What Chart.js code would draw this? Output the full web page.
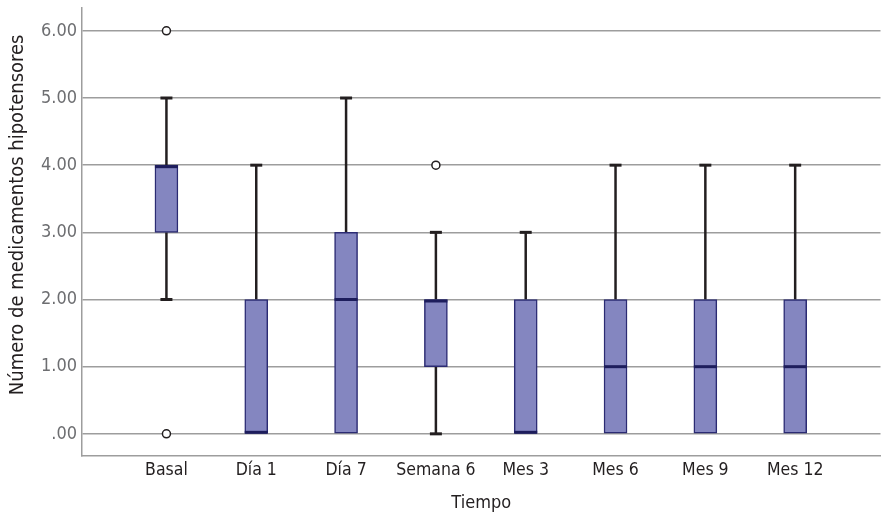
<!DOCTYPE html>
<html>
<head>
<meta charset="utf-8">
<script src="https://cdn.jsdelivr.net/npm/chart.js@4/dist/chart.umd.min.js"></script>
<style>
  html, body { margin: 0; padding: 0; background: #fff; }
  #wrap { width: 886px; height: 518px; }
</style>
</head>
<body>
<div id="wrap"><canvas id="chart" width="886" height="518"></canvas></div>
<script>
// box plot data
const categories = ['Basal', 'Día 1', 'Día 7', 'Semana 6', 'Mes 3', 'Mes 6', 'Mes 9', 'Mes 12'];
const mins    = [2, 0, 0, 0, 0, 0, 0, 0];
const q1s     = [3, 0, 0, 1, 0, 0, 0, 0];
const medians = [4, 0, 2, 2, 0, 1, 1, 1];
const q3s     = [4, 2, 3, 2, 2, 2, 2, 2];
const maxs    = [5, 4, 5, 3, 3, 4, 4, 4];
const outliers = [[6, 0], [], [], [4], [], [], [], []];
const yTicks = [0, 1, 2, 3, 4, 5, 6];

const FONT = "'Liberation Sans Narrow', 'DejaVu Sans Condensed', 'Noto Sans', sans-serif";

// whiskers + caps behind the boxes, medians on top
const boxParts = {
  id: 'boxParts',
  beforeDatasetsDraw(chart) {
    const x = chart.scales.x, y = chart.scales.y, ctx = chart.ctx;
    ctx.save();
    ctx.strokeStyle = '#231f20';
    categories.forEach((c, i) => {
      const px = x.getPixelForValue(i);
      const pairs = [[q3s[i], maxs[i]], [q1s[i], mins[i]]];
      pairs.forEach(([from, to]) => {
        if (from === to) return;
        ctx.lineWidth = 2.5;
        ctx.beginPath();
        ctx.moveTo(px, y.getPixelForValue(from));
        ctx.lineTo(px, y.getPixelForValue(to));
        ctx.stroke();
        ctx.lineWidth = 3;
        ctx.beginPath();
        ctx.moveTo(px - 6, y.getPixelForValue(to));
        ctx.lineTo(px + 6, y.getPixelForValue(to));
        ctx.stroke();
      });
    });
    ctx.restore();
  },
  afterDatasetsDraw(chart) {
    const y = chart.scales.y, ctx = chart.ctx;
    const meta = chart.getDatasetMeta(0);
    ctx.save();
    ctx.strokeStyle = '#1d1d5c';
    ctx.lineWidth = 3;
    categories.forEach((c, i) => {
      const bar = meta.data[i];
      const half = bar.width / 2;
      const top = y.getPixelForValue(q3s[i]);
      const bot = y.getPixelForValue(q1s[i]);
      let py = y.getPixelForValue(medians[i]);
      py = Math.min(Math.max(py, top + 1.5), bot - 1.5);
      ctx.beginPath();
      ctx.moveTo(bar.x - half, py);
      ctx.lineTo(bar.x + half, py);
      ctx.stroke();
    });
    ctx.restore();
  }
};

const outlierPoints = [];
outliers.forEach((arr, i) => arr.forEach(v => outlierPoints.push({ x: i, y: v })));

new Chart(document.getElementById('chart'), {
  type: 'bar',
  data: {
    datasets: [
      {
        type: 'bar',
        data: categories.map((c, i) => ({ x: i, y: [q1s[i], q3s[i]] })),
        backgroundColor: '#8486c0',
        borderColor: '#2b2b73',
        borderWidth: 1.5,
        borderSkipped: false,
        barThickness: 23,
        order: 2
      },
      {
        type: 'scatter',
        data: outlierPoints,
        pointStyle: 'circle',
        pointRadius: 4,
        pointBackgroundColor: '#ffffff',
        pointBorderColor: '#231f20',
        pointBorderWidth: 1.5,
        order: 1
      }
    ]
  },
  options: {
    responsive: false,
    animation: false,
    layout: { padding: { top: 8, right: 2, left: 0, bottom: 0 } },
    plugins: {
      legend: { display: false },
      tooltip: { enabled: false }
    },
    scales: {
      x: {
        type: 'linear',
        offset: false,
        min: -0.94,
        max: 7.95,
        afterBuildTicks: (s) => { s.ticks = categories.map((c, i) => ({ value: i })); },
        afterFit: (s) => { s.height = 62; s.paddingLeft = 0; s.paddingRight = 0; },
        grid: { display: false, drawTicks: false },
        border: { display: true, color: '#9d9d9d', width: 1.5 },
        ticks: {
          padding: 4,
          maxRotation: 0,
          autoSkip: false,
          color: '#231f20',
          font: { family: FONT, size: 17.5 },
          callback: (v) => categories[v]
        },
        title: {
          display: true,
          text: 'Tiempo',
          color: '#231f20',
          font: { family: FONT, size: 18 },
          padding: { top: 11 }
        }
      },
      y: {
        min: -0.33,
        max: 6.34,
        afterBuildTicks: (s) => { s.ticks = yTicks.map(v => ({ value: v })); },
        afterFit: (s) => { s.width = 82; s.paddingTop = 0; s.paddingBottom = 0; },
        grid: { color: '#9d9d9d', lineWidth: 1.5, drawTicks: false },
        border: { display: true, color: '#9d9d9d', width: 1.5 },
        ticks: {
          padding: 5,
          color: '#6d6e71',
          font: { family: FONT, size: 18 },
          callback: (v) => v === 0 ? '.00' : v.toFixed(2)
        },
        title: {
          display: true,
          // leading blanks nudge the rotated title up, as in the original
          text: '\u00a0\u00a0\u00a0\u00a0\u00a0\u00a0Número de medicamentos hipotensores',
          color: '#231f20',
          font: { family: FONT, size: 20 },
          padding: { top: 6, bottom: 0 }
        }
      }
    }
  },
  plugins: [boxParts]
});
</script>
</body>
</html>
